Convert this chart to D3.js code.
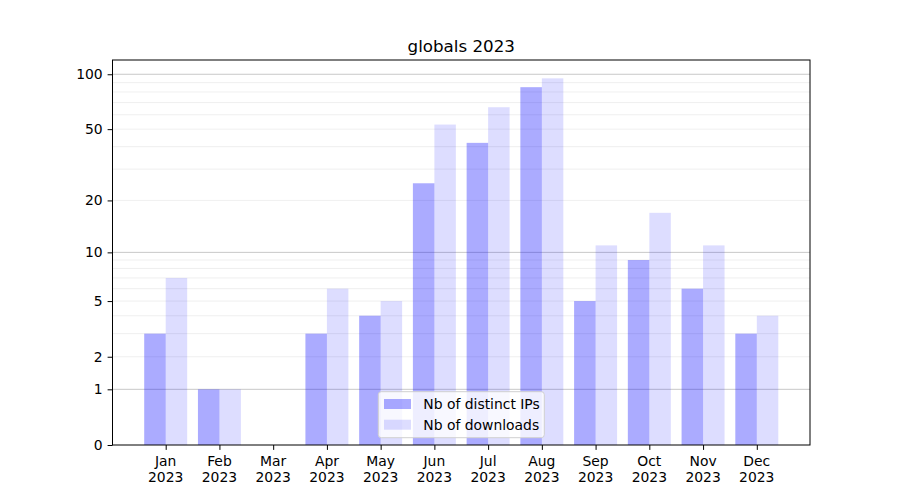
<!DOCTYPE html>
<html>
<head>
<meta charset="utf-8">
<script src="https://cdn.jsdelivr.net/npm/d3@7"></script>
<style>
  body { margin: 0; background: #fff; }
  svg { display: block; font-family: "DejaVu Sans", sans-serif; }
</style>
</head>
<body>
<svg id="chart" width="900" height="500"></svg>
<script>
const months = ["Jan","Feb","Mar","Apr","May","Jun","Jul","Aug","Sep","Oct","Nov","Dec"];
const year = 2023;
const distinctIPs = [3, 1, 0, 3, 4, 25, 42, 85, 5, 9, 6, 3];
const downloads   = [7, 1, 0, 6, 5, 53, 66, 95, 11, 17, 11, 4];
const yTickValues = [0, 1, 2, 5, 10, 20, 50, 100];
const yMajorGrid = [1, 10, 100];
const yMinorGrid = [2,3,4,5,6,7,8,9,20,30,40,50,60,70,80,90];
const seriesNames = ["Nb of distinct IPs", "Nb of downloads"];
const title = "globals 2023";

const W = 900, H = 500;
const L = 112.5, R = 810, T = 60, B = 445;
const svg = d3.select("#chart");

const idx = months.map((m, i) => i);
const barW = 0.4;
const dMin = -barW, dMax = months.length - 1 + barW;
const pad = (dMax - dMin) * 0.05;
const x = d3.scaleLinear().domain([dMin - pad, dMax + pad]).range([L, R]);

const maxV = d3.max(downloads.concat(distinctIPs));
const yLog = d3.scaleLog().domain([1, Math.pow(1 + maxV, 1.05)]).range([B, T]);
const y = v => yLog(1 + v);

// grid
const g = svg.append("g");
g.selectAll("line.minor").data(yMinorGrid).join("line")
  .attr("x1", L).attr("x2", R).attr("y1", d => y(d)).attr("y2", d => y(d))
  .attr("stroke", "#ebebeb").attr("stroke-width", 0.8);
g.selectAll("line.major").data(yMajorGrid).join("line")
  .attr("x1", L).attr("x2", R).attr("y1", d => y(d)).attr("y2", d => y(d))
  .attr("stroke", "#c8c8c8").attr("stroke-width", 1);

// bars
const c1 = "rgba(0,0,255,0.33)", c2 = "rgba(0,0,255,0.135)";
svg.append("g").selectAll("rect").data(distinctIPs).join("rect")
  .attr("x", (d, i) => x(i - barW))
  .attr("width", (d, i) => x(i) - x(i - barW))
  .attr("y", d => y(d)).attr("height", d => B - y(d))
  .attr("fill", c1);
svg.append("g").selectAll("rect").data(downloads).join("rect")
  .attr("x", (d, i) => x(i))
  .attr("width", (d, i) => x(i + barW) - x(i))
  .attr("y", d => y(d)).attr("height", d => B - y(d))
  .attr("fill", c2);

// axes frame
svg.append("rect").attr("x", L).attr("y", T).attr("width", R - L).attr("height", B - T)
  .attr("fill", "none").attr("stroke", "#000").attr("stroke-width", 1);

// y axis
const yAxis = d3.axisLeft(yLog)
  .tickValues(yTickValues.map(v => 1 + v))
  .tickFormat(v => String(Math.round(v - 1)))
  .tickSize(4.9).tickPadding(4.9);
const ya = svg.append("g").attr("transform", `translate(${L},0)`).call(yAxis);
ya.select(".domain").remove();
ya.selectAll("text").attr("font-size", 13.9).attr("fill", "#000").attr("font-family", "DejaVu Sans, sans-serif");
ya.selectAll("line").attr("stroke", "#000");

// x axis
const xAxis = d3.axisBottom(x).tickValues(idx).tickFormat("").tickSize(4.9);
const xa = svg.append("g").attr("transform", `translate(0,${B})`).call(xAxis);
xa.select(".domain").remove();
xa.selectAll("line").attr("stroke", "#000");
const xl = svg.append("g").selectAll("text").data(idx).join("text")
  .attr("x", d => x(d)).attr("text-anchor", "middle")
  .attr("font-size", 13.9).attr("fill", "#000");
xl.append("tspan").attr("x", d => x(d)).attr("y", 466).text(d => months[d]);
xl.append("tspan").attr("x", d => x(d)).attr("y", 482).text(year);

// title
svg.append("text").attr("x", (L + R) / 2).attr("y", 52).attr("text-anchor", "middle")
  .attr("font-size", 16.7).attr("fill", "#000").text(title);

// legend
const lg = svg.append("g");
lg.append("rect").attr("x", 378.3).attr("y", 391.7).attr("width", 166).attr("height", 46)
  .attr("rx", 3).attr("fill", "rgba(255,255,255,0.8)").attr("stroke", "#d0d0d0").attr("stroke-width", 1);
[c1, c2].forEach((c, i) => {
  const cy = 404 + i * 20.7;
  lg.append("rect").attr("x", 384).attr("y", cy - 5).attr("width", 27).attr("height", 10).attr("fill", c);
  lg.append("text").attr("x", 423.3).attr("y", cy).attr("dy", "0.35em")
    .attr("font-size", 13.9).attr("fill", "#000").text(seriesNames[i]);
});
</script>
</body>
</html>
